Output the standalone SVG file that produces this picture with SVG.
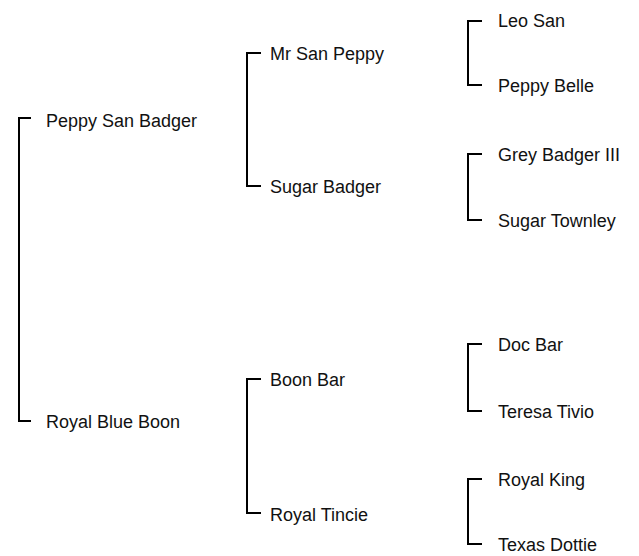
<svg xmlns="http://www.w3.org/2000/svg" width="639" height="556" viewBox="0 0 639 556">
  <style>
    .bracket { fill: none; stroke: #000; stroke-width: 2; }
    .name { font-family: "Liberation Sans", Arial, sans-serif; font-size: 18px; fill: #111; }
  </style>
  <rect width="639" height="556" fill="#fff"/>

  <!-- pedigree brackets: each joins a sire and a dam -->
  <g id="connectors">
    <path class="bracket" d="M31,118 H19 V421 H31"/>
    <path class="bracket" d="M261,53 H247 V186 H261"/>
    <path class="bracket" d="M261,379 H247 V513 H261"/>
    <path class="bracket" d="M482,21 H468 V85 H482"/>
    <path class="bracket" d="M482,154 H468 V220 H482"/>
    <path class="bracket" d="M482,344 H468 V411 H482"/>
    <path class="bracket" d="M482,479 H468 V544 H482"/>
  </g>

  <!-- generation 1 -->
  <g id="peppy-san-badger"><text class="name" x="46" y="127">Peppy San Badger</text></g>
  <g id="royal-blue-boon"><text class="name" x="46" y="428">Royal Blue Boon</text></g>

  <!-- generation 2 -->
  <g id="mr-san-peppy"><text class="name" x="270" y="60">Mr San Peppy</text></g>
  <g id="sugar-badger"><text class="name" x="270" y="193">Sugar Badger</text></g>
  <g id="boon-bar"><text class="name" x="270" y="386">Boon Bar</text></g>
  <g id="royal-tincie"><text class="name" x="270" y="521">Royal Tincie</text></g>

  <!-- generation 3 -->
  <g id="leo-san"><text class="name" x="498" y="27">Leo San</text></g>
  <g id="peppy-belle"><text class="name" x="498" y="92">Peppy Belle</text></g>
  <g id="grey-badger-iii"><text class="name" x="498" y="161">Grey Badger III</text></g>
  <g id="sugar-townley"><text class="name" x="498" y="227">Sugar Townley</text></g>
  <g id="doc-bar"><text class="name" x="498" y="351">Doc Bar</text></g>
  <g id="teresa-tivio"><text class="name" x="498" y="418">Teresa Tivio</text></g>
  <g id="royal-king"><text class="name" x="498" y="486">Royal King</text></g>
  <g id="texas-dottie"><text class="name" x="498" y="551">Texas Dottie</text></g>
</svg>
